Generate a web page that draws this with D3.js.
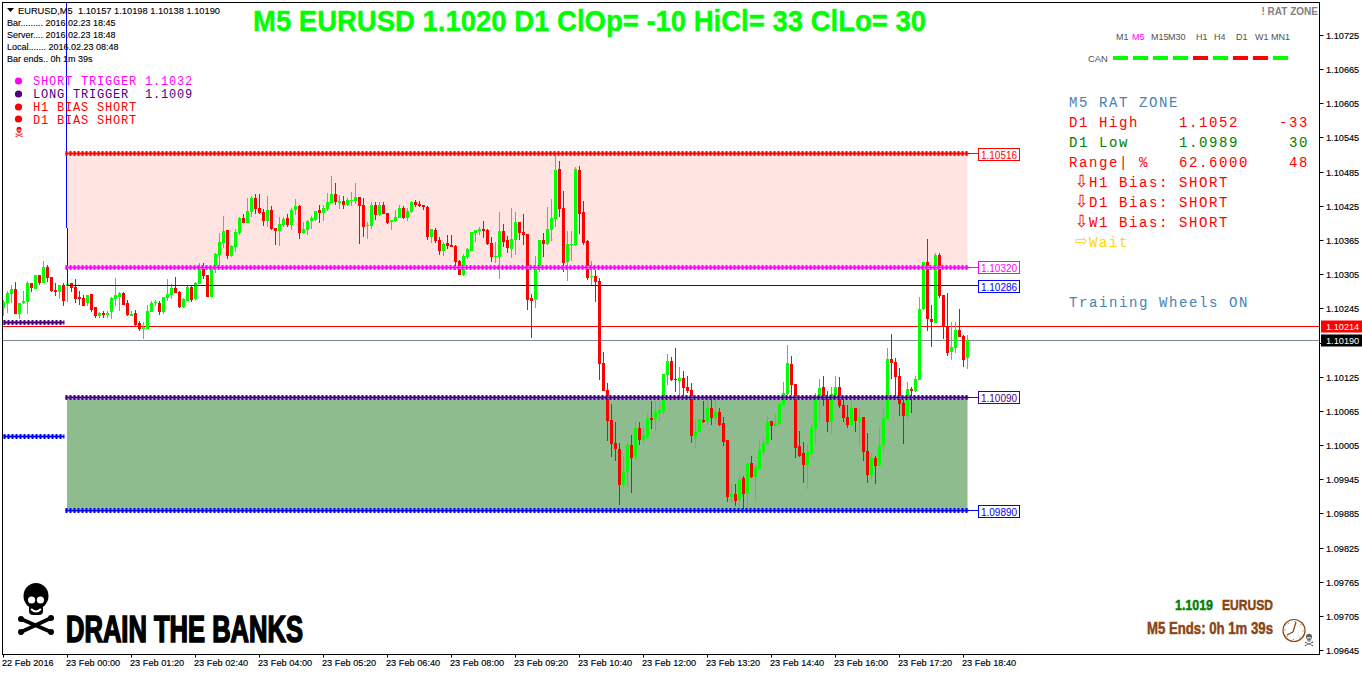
<!DOCTYPE html>
<html><head><meta charset="utf-8">
<script src="https://cdn.jsdelivr.net/npm/d3@7"></script>
<style>html,body{margin:0;background:#fff;overflow:hidden}svg{display:block}</style></head><body>
<svg id="c" width="1362" height="675"></svg>
<script>
const POINT=1e-5;
const opens=[110246,110255,110270,110279,110235,110254,110256,110290,110279,110304,110290,110318,110300,110277,110274,110286,110284,110290,110282,110265,110263,110254,110270,110247,110232,110237,110233,110239,110261,110265,110272,110254,110232,110237,110219,110209,110209,110239,110254,110254,110239,110263,110268,110281,110274,110247,110258,110282,110261,110288,110316,110304,110265,110319,110339,110360,110383,110337,110353,110377,110404,110395,110414,110439,110421,110414,110398,110418,110386,110381,110391,110404,110391,110418,110425,110377,110383,110398,110400,110418,110412,110419,110430,110446,110430,110434,110427,110434,110434,110441,110427,110390,110390,110427,110409,110427,110412,110397,110398,110404,110421,110404,110414,110432,110428,110427,110423,110370,110383,110365,110346,110360,110356,110355,110328,110304,110335,110346,110377,110381,110384,110383,110360,110335,110335,110381,110365,110349,110365,110397,110379,110376,110263,110260,110319,110365,110358,110383,110402,110490,110421,110326,110356,110356,110488,110414,110363,110300,110302,110293,110149,110102,110049,110009,109998,109935,109958,110005,109984,110035,110014,110019,110052,110051,110061,110065,110128,110153,110121,110117,110123,110107,110102,110019,110028,110049,110047,110070,110052,110063,110044,110014,109914,109919,109908,109947,109919,109973,109949,109963,109993,110007,110047,110038,110042,110075,110095,110147,110112,110003,109991,109970,109991,110033,110084,110107,110086,110045,110093,110107,110075,110054,110040,110070,110047,110054,109994,109952,109982,109970,110003,110051,110156,110151,110126,110079,110056,110103,110100,110119,110244,110326,110226,110219,110339,110268,110214,110168,110175,110207,110196,110157];
const highs=[110260,110276,110286,110291,110255,110275,110293,110290,110304,110304,110328,110321,110300,110290,110286,110290,110288,110290,110297,110275,110268,110268,110270,110247,110239,110240,110240,110265,110298,110274,110274,110260,110240,110242,110223,110221,110251,110258,110260,110258,110265,110297,110288,110300,110275,110263,110284,110284,110291,110325,110325,110304,110319,110342,110377,110407,110383,110356,110384,110405,110411,110439,110442,110446,110446,110419,110442,110425,110386,110405,110405,110411,110421,110437,110427,110397,110400,110407,110416,110427,110427,110448,110477,110465,110444,110442,110439,110449,110465,110441,110439,110397,110432,110432,110432,110432,110412,110400,110418,110427,110425,110421,110434,110435,110434,110427,110425,110384,110386,110370,110361,110374,110374,110356,110330,110340,110351,110379,110383,110388,110398,110384,110370,110361,110414,110393,110372,110421,110414,110397,110411,110376,110270,110337,110365,110377,110423,110437,110514,110504,110451,110381,110381,110493,110495,110434,110365,110328,110312,110298,110168,110114,110077,110045,110009,109986,110009,110023,110045,110045,110037,110061,110082,110082,110077,110130,110165,110160,110175,110142,110135,110126,110114,110051,110051,110082,110088,110086,110088,110070,110054,110014,109935,109937,109954,109951,109975,109986,109972,110014,110017,110056,110047,110059,110077,110116,110181,110161,110112,110030,110010,110005,110042,110096,110121,110126,110100,110107,110126,110124,110091,110075,110082,110070,110070,110054,110026,109991,109986,110035,110072,110175,110200,110158,110140,110084,110116,110107,110126,110265,110326,110367,110251,110342,110342,110268,110272,110221,110221,110244,110198,110198];
const lows=[110232,110237,110254,110235,110226,110253,110235,110274,110279,110286,110290,110291,110274,110267,110261,110249,110256,110274,110254,110251,110249,110249,110239,110228,110228,110228,110228,110226,110249,110240,110251,110232,110232,110214,110205,110191,110209,110239,110249,110233,110235,110258,110261,110272,110246,110246,110258,110256,110260,110288,110297,110265,110265,110307,110319,110351,110332,110335,110344,110374,110395,110395,110405,110411,110411,110390,110388,110383,110356,110355,110388,110388,110383,110409,110367,110376,110374,110384,110398,110395,110398,110416,110430,110427,110419,110419,110425,110425,110428,110358,110370,110367,110384,110400,110407,110411,110393,110383,110397,110404,110402,110398,110412,110423,110423,110418,110365,110360,110360,110339,110337,110349,110353,110312,110304,110302,110332,110346,110361,110374,110369,110356,110326,110325,110297,110353,110342,110333,110339,110365,110356,110242,110193,110246,110309,110335,110356,110363,110388,110405,110309,110293,110328,110355,110376,110356,110295,110286,110256,110119,110100,110012,109984,109977,109900,109928,109931,109921,109980,110005,110007,110016,110033,110030,110045,110058,110110,110117,110098,110089,110086,110096,110009,110000,110028,110044,110040,110040,110042,110038,110003,109905,109903,109898,109891,109891,109894,109947,109907,109963,109989,110007,110014,110038,110040,110075,110093,110093,109982,109984,109938,109928,109982,110007,110049,110073,110028,110024,110088,110070,110045,110035,110038,110028,110003,109977,109938,109944,109937,109968,109994,110051,110121,110089,110056,110007,110049,110061,110098,110119,110242,110205,110177,110219,110263,110191,110161,110154,110167,110195,110142,110138];
const closes=[110257,110272,110279,110235,110254,110258,110290,110281,110304,110290,110318,110298,110275,110274,110286,110258,110288,110281,110261,110261,110249,110268,110242,110232,110237,110234,110237,110263,110268,110272,110251,110233,110235,110216,110209,110212,110240,110254,110256,110239,110265,110270,110281,110272,110247,110261,110282,110260,110290,110314,110302,110265,110314,110340,110362,110381,110337,110354,110379,110404,110395,110416,110439,110419,110412,110398,110418,110384,110381,110393,110402,110391,110418,110425,110377,110384,110398,110404,110416,110412,110421,110432,110446,110432,110434,110427,110435,110435,110441,110425,110388,110391,110427,110409,110427,110411,110395,110400,110405,110421,110404,110416,110432,110427,110425,110423,110370,110384,110363,110346,110358,110355,110353,110326,110304,110337,110349,110379,110383,110384,110381,110358,110335,110337,110381,110361,110351,110367,110397,110377,110374,110260,110258,110318,110365,110358,110384,110404,110488,110419,110325,110358,110358,110490,110411,110360,110298,110302,110291,110147,110100,110047,110007,109998,109935,109959,110005,109982,110035,110014,110021,110052,110049,110063,110066,110130,110153,110119,110119,110123,110105,110100,110021,110030,110051,110045,110070,110052,110063,110040,110010,109914,109919,109907,109945,109919,109972,109949,109965,109996,110009,110045,110038,110044,110077,110096,110149,110110,110000,109986,109970,109993,110035,110086,110105,110084,110045,110095,110107,110073,110052,110040,110070,110047,110052,109993,109952,109982,109968,110003,110052,110156,110149,110124,110077,110056,110103,110100,110121,110244,110326,110226,110221,110339,110267,110212,110167,110177,110207,110195,110154,110190];

const priceTicks=[1.10725,1.10665,1.10605,1.10545,1.10485,1.10425,1.10365,1.10305,1.10245,1.10185,1.10125,1.10065,1.10005,1.09945,1.09885,1.09825,1.09765,1.09705,1.09645];
const hiddenTickLabel=1.10185; // covered by the current-price box in the reference
const timeTickIdx=[0,16,32,48,64,80,96,112,128,144,160,176,192,208,224,240];
const timeTickLabels=["22 Feb 2016","23 Feb 00:00","23 Feb 01:20","23 Feb 02:40","23 Feb 04:00","23 Feb 05:20","23 Feb 06:40","23 Feb 08:00","23 Feb 09:20","23 Feb 10:40","23 Feb 12:00","23 Feb 13:20","23 Feb 14:40","23 Feb 16:00","23 Feb 17:20","23 Feb 18:40"];

const levelHigh=1.10517, levelShort=1.10318, levelTrend=1.10286, levelLong=1.10090, levelLow=1.09890;
const lineBid=1.10214, lineAsk=1.10190, prevLong=1.10221, prevLow=1.10021;
const zones=[{a:levelHigh,b:levelShort,fill:"#ffe4e1"},{a:levelLong,b:levelLow,fill:"#8fbc8f"}];
const dotted=[
 {v:levelHigh,i0:15.5,i1:241.2,c:"#ff0000",h:"#ffb0b0"},
 {v:levelShort,i0:15.5,i1:241.2,c:"#ff00ff",h:"#ffb0ff"},
 {v:levelLong,i0:15.5,i1:241.2,c:"#4b0082",h:"#a8a0d8"},
 {v:levelLow,i0:15.5,i1:241.2,c:"#0000ff",h:"#b0b0ff"},
 {v:prevLong,i0:0,i1:15.2,c:"#4b0082",h:"#a8a0d8"},
 {v:prevLow,i0:0,i1:15.2,c:"#0000ff",h:"#b0b0ff"}];
const boxes=[
 {t:"1.10516",v:levelHigh,c:"#ff0000",dy:1},
 {t:"1.10320",v:levelShort,c:"#ff00ff",dy:0},
 {t:"1.10286",v:levelTrend,c:"#0000ff",dy:1},
 {t:"1.10090",v:levelLong,c:"#4b0082",dy:0},
 {t:"1.09890",v:levelLow,c:"#0000ff",dy:1}];
const tfNames=["M1","M5","M15","M30","H1","H4","D1","W1","MN1"];
const tfX=[1116,1132,1151,1168,1196,1214,1236,1255,1271];
const tfDir=[1,1,1,1,-1,1,-1,-1,1];

const svg=d3.select("#c");
const L=2.5,R=1319.5,T=2.5,B=654.5;
const x=d3.scaleLinear().domain([0,241]).range([3.5,967.5]);
const y=d3.scaleLinear().domain([1.10725,1.09645]).range([35,650]);
const GREEN="#00ff00",RED="#ff0000";
const bars=opens.map((o,i)=>({i,o:o*POINT,h:highs[i]*POINT,l:lows[i]*POINT,c:closes[i]*POINT}));
const TAH='Tahoma,"Liberation Sans",Arial,sans-serif', MONO='"Liberation Mono",monospace', NARROW='"Liberation Sans Narrow","Liberation Sans",sans-serif';

function text(s,px,py,o={}){return svg.append("text").attr("x",px).attr("y",py).attr("dominant-baseline","central")
 .attr("font-family",o.f||TAH).attr("font-size",o.s||9).attr("font-weight",o.w||400).attr("fill",o.c||"#000")
 .attr("text-anchor",o.a||"start").attr("letter-spacing",o.ls||null).attr("textLength",o.len||null)
 .attr("lengthAdjust",o.len?"spacingAndGlyphs":null).attr("stroke",o.st||null).attr("stroke-width",o.sw||null).text(s);}
function skull(cx,cy,k,c){
 const s=svg.append("g").attr("transform",`translate(${cx},${cy}) scale(${k})`);
 s.append("ellipse").attr("cx",0).attr("cy",-13).attr("rx",12.5).attr("ry",13).attr("fill",c);
 s.append("rect").attr("x",-7).attr("y",-5).attr("width",14).attr("height",11).attr("rx",4).attr("fill",c);
 s.append("circle").attr("cx",-4.4).attr("cy",-9).attr("r",3.6).attr("fill","#fff");
 s.append("circle").attr("cx",4.4).attr("cy",-9).attr("r",3.6).attr("fill","#fff");
 s.append("path").attr("d","M-5,0Q0,5 5,0").attr("stroke","#fff").attr("stroke-width",2).attr("fill","none");
 [[-15,10,15,23],[15,9,-15,23]].forEach(([a,b,e,f])=>{
  s.append("line").attr("x1",a).attr("y1",b).attr("x2",e).attr("y2",f).attr("stroke",c).attr("stroke-width",3.6);
  [[a,b],[e,f]].forEach(([u,v])=>s.append("circle").attr("cx",u).attr("cy",v).attr("r",3).attr("fill",c));
 });
}

// zones
svg.append("g").selectAll("rect").data(zones).join("rect")
 .attr("x",x(16)-.5).attr("width",x(241)-x(16)+.5)
 .attr("y",d=>y(d.a)).attr("height",d=>y(d.b)-y(d.a)).attr("fill",d=>d.fill);

// full width lines beneath candles
svg.append("line").attr("x1",L).attr("x2",R).attr("y1",Math.round(y(lineBid))+.5).attr("y2",Math.round(y(lineBid))+.5).attr("stroke","#ff0000");
svg.append("line").attr("x1",L).attr("x2",R).attr("y1",Math.round(y(lineAsk))+.5).attr("y2",Math.round(y(lineAsk))+.5).attr("stroke","#778899");

// candles
const g=svg.append("g").attr("shape-rendering","crispEdges");
const col=d=>d.c>=d.o?GREEN:RED;
g.selectAll("line").data(bars).join("line").attr("x1",d=>x(d.i)).attr("x2",d=>x(d.i))
 .attr("y1",d=>y(d.h)).attr("y2",d=>y(d.l)).attr("stroke",col);
g.selectAll("rect").data(bars).join("rect").attr("x",d=>x(d.i)-1.5).attr("width",3)
 .attr("y",d=>Math.min(y(d.o),y(d.c))).attr("height",d=>Math.max(1,Math.abs(y(d.o)-y(d.c)))).attr("fill",col);

// trend line and vertical connector
const ty=Math.round(y(levelTrend))+.5;
svg.append("path").attr("d",`M66.5,${T}V228M67.5,228V${ty}H978`).attr("fill","none").attr("stroke","#0000ff").attr("shape-rendering","crispEdges");

// dotted levels
const dg=svg.append("g");
dotted.forEach(d=>{const yy=Math.round(y(d.v))+.5,x0=x(d.i0),x1=x(d.i1);
 const ln=()=>dg.append("line").attr("x1",x0).attr("x2",x1).attr("y1",yy).attr("y2",yy);
 ln().attr("stroke",d.h).attr("stroke-width",3);
 ln().attr("stroke",d.c).attr("stroke-width",5).attr("stroke-dasharray","2 2");
 ln().attr("stroke",d.c).attr("stroke-width",1.4);
});

// level label boxes
boxes.forEach(b=>{const ly=Math.round(y(b.v))+.5,cy=ly+b.dy;
 svg.append("line").attr("x1",968).attr("x2",979).attr("y1",ly).attr("y2",ly).attr("stroke",b.c);
 svg.append("rect").attr("x",978.5).attr("y",cy-6).attr("width",41).attr("height",12).attr("fill","#fff").attr("stroke",b.c);
 text(b.t,999,cy+.5,{s:10,c:b.c,a:"middle"});
});

// frame and axes
svg.append("rect").attr("x",L).attr("y",T).attr("width",R-L).attr("height",B-T).attr("fill","none").attr("stroke","#000").attr("shape-rendering","crispEdges");
priceTicks.forEach(p=>{const yy=Math.round(y(p))+.5;
 svg.append("line").attr("x1",R).attr("x2",R+4).attr("y1",yy).attr("y2",yy).attr("stroke","#000");
 if(p!==hiddenTickLabel)text(p.toFixed(5),1326,yy,{s:9.2,st:"#000",sw:.15});});
timeTickIdx.forEach((k,j)=>{const xx=Math.floor(x(k))+.5;
 svg.append("line").attr("x1",xx).attr("x2",xx).attr("y1",B).attr("y2",B+3).attr("stroke","#000");
 text(timeTickLabels[j],xx-1.5,663,{s:9.2,st:"#000",sw:.15});});

// current price labels
[[lineBid,"1.10214","#ff0000"],[lineAsk,"1.10190","#000"]].forEach(([v,t,c])=>{const yy=Math.round(y(v))+.5;
 svg.append("rect").attr("x",1321).attr("y",yy-6).attr("width",41).attr("height",12).attr("fill",c);
 text(t,1326,yy,{s:9.2,c:"#fff"});});

// top-left info
svg.append("path").attr("d","M7,8H14L10.5,12Z").attr("fill","#000");
text("EURUSD,M5  1.10157 1.10198 1.10138 1.10190",18,10.5,{s:9.6,len:202,st:"#000",sw:.12}).style("white-space","pre");
[["Bar......... 2016.02.23 18:45",23],["Server.... 2016.02.23 18:48",35],["Local....... 2016.02.23 08:48",47],["Bar ends.. 0h 1m 39s",59]]
 .forEach(([t,yy])=>text(t,7,yy,{s:9,st:"#000",sw:.12}));
// signal legend
const legend=[["SHORT TRIGGER 1.1032","#ff00ff",81],["LONG TRIGGER  1.1009","#4b0082",94],["H1 BIAS SHORT","#ff0000",107],["D1 BIAS SHORT","#ff0000",120]];
legend.forEach(([t,c,yy])=>{svg.append("circle").attr("cx",18.5).attr("cy",yy-(yy===120?1:0)).attr("r",3.6).attr("fill",c);
 text(t,33,yy+1,{f:MONO,s:12,c,ls:.8}).style("white-space","pre");});
skull(19,132,.2,"#ff0000");

// title
text("M5 EURUSD 1.1020 D1 ClOp= -10 HiCl= 33 ClLo= 30",253,20,{s:29.5,w:700,c:GREEN,f:'"Liberation Sans",Arial,sans-serif',len:673,st:GREEN,sw:.4});

// right top
text("! RAT ZONE",1318,11,{s:10,w:700,c:"#808080",a:"end"});
tfNames.forEach((t,i)=>text(t,tfX[i],36.5,{s:9,c:t==="M5"?"#ff00ff":"#505050"}));
text("CAN",1088,58,{s:9.4,c:"#505050"});
tfDir.forEach((d,i)=>svg.append("rect").attr("x",1113+20*i).attr("y",56).attr("width",15).attr("height",4).attr("fill",d>0?GREEN:RED));

// right panel
const PANEL={f:MONO,s:14,ls:1.6};
const pt=(t,px,yy,c,a)=>text(t,px,yy+1,{...PANEL,c,a});
const STEEL="#4682b4",PG="#008000",GOLD="#ffd700";
pt("M5 RAT ZONE",1069,102,STEEL);
[["D1 High","1.1052","-33",RED,122],["D1 Low","1.0989","30",PG,142],["Range| %","62.6000","48",RED,162]].forEach(([a,b,c,col,yy])=>{
 pt(a,1069,yy,col);pt(b,1179,yy,col);pt(c,1309,yy,col,"end");});
[["H1 Bias: SHORT",182],["D1 Bias: SHORT",202],["W1 Bias: SHORT",222]].forEach(([t,yy])=>{
 text("⇩",1081.5,yy-1,{f:'"DejaVu Sans"',s:17,c:RED,a:"middle"});pt(t,1089,yy,RED);});
text("⇨",1081.5,241,{f:'"DejaVu Sans"',s:15,c:GOLD,a:"middle"});pt("Wait",1089,242,GOLD);
pt("Training Wheels ON",1069,302,STEEL);

// bottom left brand
skull(36,609,1,"#000");
text("DRAIN THE BANKS",66,629,{f:NARROW,s:36,w:700,c:"#000",len:237,st:"#000",sw:1.6});

// bottom right
const BROWN="#8b4513";
text("1.1019",1175,604,{f:NARROW,s:15.5,w:700,c:"#008000",len:38,st:"#008000",sw:.5});
text("EURUSD",1222,604,{f:NARROW,s:15.5,w:700,c:BROWN,len:51,st:BROWN,sw:.5});
text("M5 Ends: 0h 1m 39s",1147,628,{f:NARROW,s:16.5,w:700,c:BROWN,len:126,st:BROWN,sw:.5});
svg.append("circle").attr("cx",1294).attr("cy",630.5).attr("r",11).attr("fill","#fff").attr("stroke",BROWN).attr("stroke-width",1.2);
svg.append("circle").attr("cx",1294).attr("cy",630.5).attr("r",9).attr("fill","none").attr("stroke",BROWN).attr("stroke-dasharray","1 6.07");
svg.append("path").attr("d","M1293,632L1296,622M1293,632L1287,635").attr("stroke",BROWN).attr("stroke-width",1.3).attr("fill","none");
skull(1309,640,.24,"#606060");
</script></body></html>
